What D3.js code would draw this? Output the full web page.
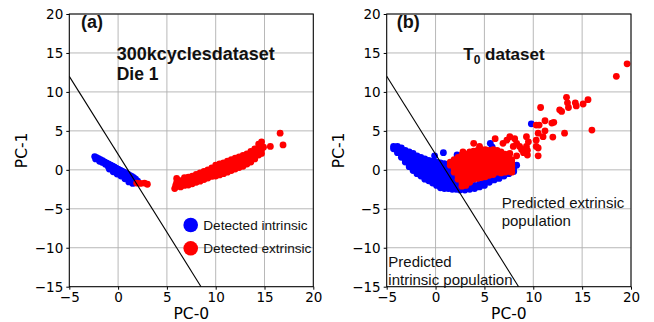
<!DOCTYPE html>
<html>
<head>
<meta charset="utf-8">
<script src="https://cdn.jsdelivr.net/npm/d3@7/dist/d3.min.js"></script>
<style>
	body { margin: 0; background: #fff; }
	svg { display: block; }
	.tick text { font-family: 'DejaVu Sans', sans-serif; font-size: 13.5px; fill: #000; }
	.lbl { font-family: 'DejaVu Sans', sans-serif; font-size: 15.5px; fill: #000; }
	.ann { font-family: 'Liberation Sans', Arial, sans-serif; fill: #111; }
</style>
</head>
<body>
<svg id="chart" width="654" height="322"></svg>
<script>
// axis ticks
const xTicks = [-5, 0, 5, 10, 15, 20];
const yTicks = [-15, -10, -5, 0, 5, 10, 15, 20];

// decision boundary (both panels)
const boundary = [[-5, 12], [8.5, -15]];

// (a) 300k cycles, die 1
const aIntrinsic = [
	[-2.4,1.7],[-2.2,1.57],[-2.0,1.43],[-1.8,1.3],[-1.6,1.17],[-1.4,1.03],[-1.2,0.9],[-1.0,0.77],
	[-0.8,0.63],[-0.6,0.5],[-0.4,0.37],[-0.2,0.23],[0,0.1],[0.2,-0.03],[0.4,-0.17],[0.6,-0.3],
	[0.8,-0.43],[1.0,-0.57],[1.2,-0.7],[1.4,-0.85],[1.6,-1.0],[1.8,-1.2],[2.0,-1.45],
	[-2.3,1.4],[-1.9,1.1],[-1.6,0.95],[-1.3,0.7],[-1.0,0.4],[-0.7,0.15],[-0.4,-0.1],[-0.1,-0.3],[0.2,-0.45],[0.5,-0.75],
	[0.8,-1.05],[1.1,-1.35],[1.4,-1.5],[1.7,-1.5],[0.9,-0.8],[1.3,-1.1],[1.6,-1.25],
	[-0.9,0.1],[-0.5,-0.25],[-0.1,-0.55],[0.3,-0.8],[0.7,-1.15],[1.1,-1.55],[1.5,-1.75]
];
const aExtrinsic = [
	[1.9,-1.7],[2.3,-1.75],[2.7,-1.7],[3.0,-1.85],
	[5.8,-2.4],[5.9,-2.0],
	[6.0,-1.1],[6.0,-1.6],[6.0,-2.1],
	[6.4,-1.4],[6.4,-1.8],[6.4,-2.2],
	[6.8,-1.0],[6.8,-1.6],[6.8,-2.0],
	[7.2,-0.95],[7.2,-1.45],[7.2,-1.95],
	[7.6,-0.8],[7.6,-1.3],[7.6,-1.8],
	[8.0,-0.6],[8.0,-1.1],[8.0,-1.6],
	[8.4,-0.4],[8.4,-0.95],[8.4,-1.45],
	[8.8,-0.2],[8.8,-0.75],[8.8,-1.25],
	[9.2,0.0],[9.2,-0.55],[9.2,-1.05],
	[9.6,0.25],[9.6,-0.3],[9.6,-0.85],
	[10.0,0.6],[10.0,0.1],[10.0,-0.35],[10.0,-0.8],
	[10.4,0.75],[10.4,0.25],[10.4,-0.2],[10.4,-0.65],
	[10.8,0.9],[10.8,0.4],[10.8,-0.05],[10.8,-0.5],
	[11.2,1.1],[11.2,0.6],[11.2,0.15],[11.2,-0.3],
	[11.6,1.3],[11.6,0.8],[11.6,0.35],[11.6,-0.1],
	[12.0,1.5],[12.0,1.0],[12.0,0.55],[12.0,0.1],
	[12.4,1.65],[12.4,1.15],[12.4,0.7],[12.4,0.3],
	[12.8,1.85],[12.8,1.35],[12.8,0.9],[12.8,0.45],
	[13.2,2.05],[13.2,1.6],[13.2,1.2],[13.2,0.75],
	[13.6,2.35],[13.6,1.85],[13.6,1.4],[13.6,1.0],
	[14.0,2.7],[14.0,2.2],[14.0,1.8],[14.0,1.4],
	[14.4,3.3],[14.4,2.8],[14.4,2.3],[14.4,1.9],
	[14.7,3.6],[14.7,2.6],[14.7,2.1],
	[14.9,2.9],[15.6,3.0],[16.6,4.7],[16.9,3.2]
];

// (b) T0 dataset
const bIntrinsic = [
	[-4.3,3.0],[-4.3,2.7],
	[-3.9,3.0],[-3.9,2.6],[-3.9,2.2],
	[-3.5,2.8],[-3.5,2.4],[-3.5,2.0],[-3.5,1.6],
	[-3.1,2.5],[-3.1,2.1],[-3.1,1.7],[-3.1,1.3],[-3.1,1.0],
	[-2.7,2.3],[-2.7,1.9],[-2.7,1.5],[-2.7,1.1],[-2.7,0.7],[-2.7,0.4],
	[-2.3,2.1],[-2.3,1.7],[-2.3,1.3],[-2.3,0.9],[-2.3,0.5],[-2.3,0.1],[-2.3,-0.1],
	[-1.9,1.8],[-1.9,1.4],[-1.9,1.0],[-1.9,0.6],[-1.9,0.2],[-1.9,-0.2],[-1.9,-0.5],
	[-1.5,1.6],[-1.5,1.2],[-1.5,0.8],[-1.5,0.4],[-1.5,0.0],[-1.5,-0.4],[-1.5,-0.8],
	[-1.1,1.4],[-1.1,1.0],[-1.1,0.6],[-1.1,0.2],[-1.1,-0.2],[-1.1,-0.6],[-1.1,-1.0],[-1.1,-1.2],
	[-0.7,1.2],[-0.7,0.8],[-0.7,0.4],[-0.7,0.0],[-0.7,-0.4],[-0.7,-0.8],[-0.7,-1.2],[-0.7,-1.4],
	[-0.3,1.1],[-0.3,0.7],[-0.3,0.3],[-0.3,-0.1],[-0.3,-0.5],[-0.3,-0.9],[-0.3,-1.3],[-0.3,-1.7],
	[0.1,1.0],[0.1,0.6],[0.1,0.2],[0.1,-0.2],[0.1,-0.6],[0.1,-1.0],[0.1,-1.4],[0.1,-1.8],[0.1,-2.0],
	[0.5,0.9],[0.5,0.5],[0.5,0.1],[0.5,-0.3],[0.5,-0.7],[0.5,-1.1],[0.5,-1.5],[0.5,-1.9],[0.5,-2.3],
	[0.9,0.8],[0.9,0.4],[0.9,0.0],[0.9,-0.4],[0.9,-0.8],[0.9,-1.2],[0.9,-1.6],[0.9,-2.0],[0.9,-2.4],
	[1.3,0.4],[1.3,0.0],[1.3,-0.4],[1.3,-0.8],[1.3,-1.2],[1.3,-1.6],[1.3,-2.0],[1.3,-2.4],
	[1.7,-0.4],[1.7,-0.8],[1.7,-1.2],[1.7,-1.6],[1.7,-2.0],[1.7,-2.5],
	[2.1,-1.2],[2.1,-1.6],[2.1,-2.0],[2.1,-2.5],
	[2.5,-1.8],[2.5,-2.2],[2.5,-2.6],
	[3.0,-2.0],[3.0,-2.4],[3.0,-2.6],
	[3.5,-2.1],[3.5,-2.5],[4.0,-2.0],[4.0,-2.4],[4.5,-1.8],[4.5,-2.2],
	[5.0,-1.6],[5.0,-2.0],[5.5,-1.3],[5.5,-1.6],[6.0,-1.0],[6.0,-1.3],
	[6.5,-0.8],[6.5,-1.1],[7.0,-0.5],[7.0,-0.8],[7.5,-0.2],[7.5,-0.5],
	[8.0,0.2],[8.0,-0.2],[8.3,0.6],
	[-0.1,1.8],[0.8,2.2],[2.2,1.9],[3.2,1.8],[5.6,3.4],[5.8,2.9],[9.8,5.9]
];
const bExtrinsic = [
	[1.5,1.0],[1.5,0.6],
	[1.9,1.3],[1.9,0.9],[1.9,0.5],[1.9,0.1],[1.9,-0.3],
	[2.3,1.6],[2.3,1.2],[2.3,0.8],[2.3,0.4],[2.3,0.0],[2.3,-0.4],[2.3,-0.8],[2.3,-1.2],
	[2.7,1.9],[2.7,1.5],[2.7,1.1],[2.7,0.7],[2.7,0.3],[2.7,-0.1],[2.7,-0.5],[2.7,-0.9],[2.7,-1.3],[2.7,-1.7],[2.7,-2.1],
	[3.1,2.0],[3.1,1.6],[3.1,1.2],[3.1,0.8],[3.1,0.4],[3.1,0.0],[3.1,-0.4],[3.1,-0.8],[3.1,-1.2],[3.1,-1.6],[3.1,-2.0],
	[3.5,2.3],[3.5,1.9],[3.5,1.5],[3.5,1.1],[3.5,0.7],[3.5,0.3],[3.5,-0.1],[3.5,-0.5],[3.5,-0.9],[3.5,-1.3],[3.5,-1.6],
	[3.9,2.4],[3.9,2.0],[3.9,1.6],[3.9,1.2],[3.9,0.8],[3.9,0.4],[3.9,0.0],[3.9,-0.4],[3.9,-0.8],[3.9,-1.2],
	[4.3,2.5],[4.3,2.1],[4.3,1.7],[4.3,1.3],[4.3,0.9],[4.3,0.5],[4.3,0.1],[4.3,-0.3],[4.3,-0.7],[4.3,-1.1],
	[4.7,2.6],[4.7,2.2],[4.7,1.8],[4.7,1.4],[4.7,1.0],[4.7,0.6],[4.7,0.2],[4.7,-0.2],[4.7,-0.6],[4.7,-1.0],
	[5.1,2.6],[5.1,2.2],[5.1,1.8],[5.1,1.4],[5.1,1.0],[5.1,0.6],[5.1,0.2],[5.1,-0.2],[5.1,-0.6],[5.1,-0.9],
	[5.5,2.5],[5.5,2.1],[5.5,1.7],[5.5,1.3],[5.5,0.9],[5.5,0.5],[5.5,0.1],[5.5,-0.3],[5.5,-0.7],
	[5.9,2.6],[5.9,2.2],[5.9,1.8],[5.9,1.4],[5.9,1.0],[5.9,0.6],[5.9,0.2],[5.9,-0.2],[5.9,-0.6],
	[6.3,2.5],[6.3,2.1],[6.3,1.7],[6.3,1.3],[6.3,0.9],[6.3,0.5],[6.3,0.1],[6.3,-0.3],
	[6.7,2.3],[6.7,1.9],[6.7,1.5],[6.7,1.1],[6.7,0.7],[6.7,0.3],[6.7,-0.1],[6.7,-0.4],
	[7.1,2.0],[7.1,1.6],[7.1,1.2],[7.1,0.8],[7.1,0.4],[7.1,0.0],[7.1,-0.3],
	[7.5,1.8],[7.5,1.4],[7.5,1.0],[7.5,0.6],[7.5,0.2],[7.5,-0.2],
	[7.8,1.3],[7.8,0.9],[7.8,0.5],[7.8,0.1],[7.8,-0.3],
	[2.8,2.3],[3.9,3.4],[4.5,3.0],[5.2,2.1],[6.1,4.0],[6.6,1.9],[6.9,3.4],[7.3,3.8],[7.6,4.25],
	[7.6,2.1],[7.95,3.0],[8.1,4.0],[8.3,3.4],[8.3,1.8],[8.6,3.0],[8.8,2.6],[9.0,2.2],
	[9.3,4.25],[9.5,3.6],[9.3,3.0],[9.4,2.5],[9.4,1.9],[10.3,3.0],[10.5,2.8],[10.5,1.8],
	[10.3,3.8],[10.5,4.7],[10.3,5.75],[10.6,5.75],[10.75,8.0],[11.2,6.3],[11.9,6.0],[12.1,6.1],
	[11.2,5.0],[11.0,4.25],[12.0,4.2],[13.2,4.7],[16.0,5.1],[12.7,7.7],[12.9,7.5],
	[13.4,9.3],[13.5,8.6],[13.6,8.0],[14.3,8.6],[14.4,8.2],[15.1,8.45],[15.6,9.0],
	[18.5,12.0],[19.6,13.6]
];

const legendItems = [
	{ label: 'Detected intrinsic', color: '#0000ff' },
	{ label: 'Detected extrinsic', color: '#ff0000' }
];

const svg = d3.select('#chart');
const fmt = d => (d < 0 ? '\u2212' + Math.abs(d) : String(d));

function drawPanel(id, left, right, intrinsic, extrinsic) {
	const top = 14, bottom = 286.7;
	const x = d3.scaleLinear().domain([-5, 20]).range([left, right]);
	const y = d3.scaleLinear().domain([-15, 20]).range([bottom, top]);

	svg.append('clipPath').attr('id', 'clip-' + id)
		.append('rect')
		.attr('x', left).attr('y', top)
		.attr('width', right - left).attr('height', bottom - top);

	const grid = svg.append('g').attr('stroke', '#b0b0b0').attr('stroke-width', 0.9);
	grid.selectAll('line.gx').data(xTicks).enter().append('line')
		.attr('x1', d => x(d)).attr('x2', d => x(d))
		.attr('y1', top).attr('y2', bottom);
	grid.selectAll('line.gy').data(yTicks).enter().append('line')
		.attr('x1', left).attr('x2', right)
		.attr('y1', d => y(d)).attr('y2', d => y(d));

	const pts = svg.append('g').attr('clip-path', `url(#clip-${id})`);
	pts.selectAll('circle.i').data(intrinsic).enter().append('circle')
		.attr('cx', d => x(d[0])).attr('cy', d => y(d[1]))
		.attr('r', 3.4).attr('fill', '#0000ff');
	pts.selectAll('circle.e').data(extrinsic).enter().append('circle')
		.attr('cx', d => x(d[0])).attr('cy', d => y(d[1]))
		.attr('r', 3.4).attr('fill', '#ff0000');

	pts.append('path')
		.datum(boundary)
		.attr('fill', 'none')
		.attr('stroke', '#000')
		.attr('stroke-width', 1.1)
		.attr('d', d3.line().x(d => x(d[0])).y(d => y(d[1])));

	svg.append('g')
		.attr('transform', `translate(0, ${bottom})`)
		.call(d3.axisBottom(x).tickValues(xTicks).tickFormat(fmt).tickSize(3).tickPadding(3))
		.call(g => g.select('.domain').remove());
	svg.append('g')
		.attr('transform', `translate(${left}, 0)`)
		.call(d3.axisLeft(y).tickValues(yTicks).tickFormat(fmt).tickSize(3).tickPadding(3))
		.call(g => g.select('.domain').remove());

	svg.append('rect')
		.attr('x', left).attr('y', top)
		.attr('width', right - left).attr('height', bottom - top)
		.attr('fill', 'none').attr('stroke', '#000').attr('stroke-width', 1);

	svg.append('text').attr('class', 'lbl')
		.attr('x', (left + right) / 2).attr('y', 319)
		.attr('text-anchor', 'middle')
		.text('PC-0');
	svg.append('text').attr('class', 'lbl')
		.attr('transform', `translate(${left - 42.8}, ${(top + bottom) / 2}) rotate(-90)`)
		.attr('text-anchor', 'middle')
		.text('PC-1');

	return { x, y };
}

drawPanel('a', 69.3, 313.3, aIntrinsic, aExtrinsic);
drawPanel('b', 386.7, 631, bIntrinsic, bExtrinsic);

// panel (a) texts
svg.append('text').attr('class', 'ann')
	.attr('x', 81).attr('y', 28)
	.attr('font-size', 18).attr('font-weight', 'bold').attr('fill', '#000')
	.text('(a)');
svg.append('text').attr('class', 'ann')
	.attr('x', 116.7).attr('y', 60)
	.attr('font-size', 18).attr('font-weight', 'bold').attr('fill', '#000')
	.text('300kcyclesdataset');
svg.append('text').attr('class', 'ann')
	.attr('x', 116.7).attr('y', 80)
	.attr('font-size', 17.5).attr('font-weight', 'bold').attr('fill', '#000')
	.text('Die 1');

const legend = svg.append('g');
legend.selectAll('circle').data(legendItems).enter().append('circle')
	.attr('cx', 190.7).attr('cy', (d, i) => 225 + i * 23.3)
	.attr('r', 7.3).attr('fill', d => d.color);
legend.selectAll('text').data(legendItems).enter().append('text')
	.attr('class', 'ann')
	.attr('x', 203.3).attr('y', (d, i) => 230 + i * 23.3)
	.attr('font-size', 13.6)
	.text(d => d.label);

// panel (b) texts
svg.append('text').attr('class', 'ann')
	.attr('x', 396.7).attr('y', 28)
	.attr('font-size', 18).attr('font-weight', 'bold').attr('fill', '#000')
	.text('(b)');
const t0 = svg.append('text').attr('class', 'ann')
	.attr('x', 463.3).attr('y', 60)
	.attr('font-size', 17).attr('font-weight', 'bold').attr('fill', '#000');
t0.append('tspan').text('T');
t0.append('tspan').attr('font-size', 12).attr('dy', 4).text('0');
t0.append('tspan').attr('dy', -4).text(' dataset');

svg.append('text').attr('class', 'ann')
	.attr('x', 501.7).attr('y', 208).attr('font-size', 15)
	.text('Predicted extrinsic');
svg.append('text').attr('class', 'ann')
	.attr('x', 501.7).attr('y', 226).attr('font-size', 15)
	.text('population');
svg.append('text').attr('class', 'ann')
	.attr('x', 388.3).attr('y', 266.7).attr('font-size', 15)
	.text('Predicted');
svg.append('text').attr('class', 'ann')
	.attr('x', 388.3).attr('y', 285).attr('font-size', 15)
	.text('intrinsic population');
</script>
</body>
</html>
